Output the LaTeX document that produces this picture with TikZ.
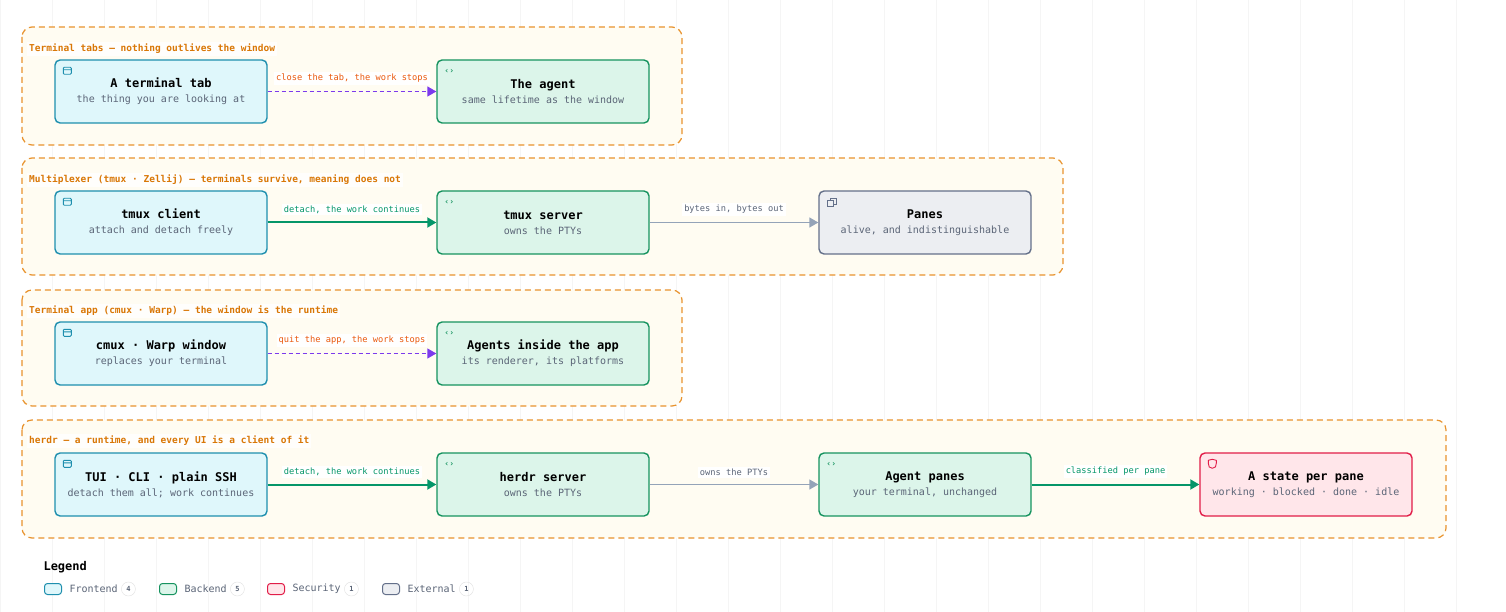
\documentclass[tikz,border=0pt]{standalone}
\usepackage{fontspec}
\setmainfont{DejaVu Sans Mono}
\usetikzlibrary{arrows.meta, positioning, calc}
\definecolor{feFill}{HTML}{DFF7FB}\definecolor{feLine}{HTML}{1E8FAE}
\definecolor{beFill}{HTML}{DCF5EA}\definecolor{beLine}{HTML}{16935F}
\definecolor{seFill}{HTML}{FFE6EA}\definecolor{seLine}{HTML}{E11D48}
\definecolor{exFill}{HTML}{ECEEF2}\definecolor{exLine}{HTML}{64708A}
\definecolor{grpFill}{HTML}{FFFCF2}\definecolor{grpLine}{HTML}{E8932E}
\definecolor{grpText}{HTML}{D97706}
\definecolor{subText}{HTML}{5B6577}
\definecolor{stopCol}{HTML}{EA580C}\definecolor{dashCol}{HTML}{7C3AED}
\definecolor{goCol}{HTML}{059669}\definecolor{byteCol}{HTML}{94A3B8}
\newcommand{\boxtxt}[2]{{\fontsize{12}{14}\selectfont\bfseries #1}\\[3pt]{\fontsize{10}{12}\selectfont\color{subText}#2}}
\begin{document}
\begin{tikzpicture}[x=1pt,y=-1pt,
    box/.style={rectangle, draw, line width=1.4pt, rounded corners=5pt, minimum width=212pt, minimum height=63pt, align=center, inner sep=2pt},
    fe/.style={box, fill=feFill, draw=feLine},
    be/.style={box, fill=beFill, draw=beLine},
    se/.style={box, fill=seFill, draw=seLine},
    ex/.style={box, fill=exFill, draw=exLine},
    grp/.style={draw=grpLine, fill=grpFill, dashed, dash pattern=on 6pt off 4pt, line width=1.2pt, rounded corners=10pt},
    grplabel/.style={font=\fontsize{9.5}{11}\selectfont\bfseries, text=grpText, fill=white, fill opacity=0.8, text opacity=1, anchor=west, inner sep=2pt},
    elabel/.style={font=\fontsize{8.7}{10}\selectfont, fill=white, inner sep=2pt},
    stop/.style={-{Triangle[length=9pt,width=10pt]}, dashCol, line width=1.4pt, dash pattern=on 4pt off 3pt},
    go/.style={-{Triangle[length=9pt,width=10pt]}, goCol, line width=2pt},
    bytes/.style={-{Triangle[length=9pt,width=10pt]}, byteCol, line width=1.4pt},
    icon/.style={font=\fontsize{8}{8}\selectfont\bfseries, inner sep=0pt}
]
\useasboundingbox[fill=white] (0,0) rectangle (1506,612);
% faint grid
\draw[black!4, line width=0.5pt] (0,0) grid[step=52] (1506,612);

% groups
\draw[grp] (22,27) rectangle (682,145);
\node[grplabel] (g1) at (27,49) {Terminal tabs — nothing outlives the window};
\draw[grp] (22,158) rectangle (1063,275);
\node[grplabel] (g2) at (27,180) {Multiplexer (tmux · Zellij) — terminals survive, meaning does not};
\draw[grp] (22,290) rectangle (682,406);
\node[grplabel] (g3) at (27,311) {Terminal app (cmux · Warp) — the window is the runtime};
\draw[grp] (22,420) rectangle (1446,538);
\node[grplabel] (g4) at (27,441) {herdr — a runtime, and every UI is a client of it};

% row 1
\node[fe] (tab) at (161,91.5) {\boxtxt{A terminal tab}{the thing you are looking at}};
\node[be] (agent) at (543,91.5) {\boxtxt{The agent}{same lifetime as the window}};
% row 2
\node[fe] (client) at (161,222.5) {\boxtxt{tmux client}{attach and detach freely}};
\node[be] (tserver) at (543,222.5) {\boxtxt{tmux server}{owns the PTYs}};
\node[ex] (panes) at (925,222.5) {\boxtxt{Panes}{alive, and indistinguishable}};
% row 3
\node[fe] (cmux) at (161,353.5) {\boxtxt{cmux · Warp window}{replaces your terminal}};
\node[be] (inside) at (543,353.5) {\boxtxt{Agents inside the app}{its renderer, its platforms}};
% row 4
\node[fe] (tui) at (161,484.5) {\boxtxt{TUI · CLI · plain SSH}{detach them all; work continues}};
\node[be] (hserver) at (543,484.5) {\boxtxt{herdr server}{owns the PTYs}};
\node[be] (apanes) at (925,484.5) {\boxtxt{Agent panes}{your terminal, unchanged}};
\node[se] (state) at (1306,484.5) {\boxtxt{A state per pane}{working · blocked · done · idle}};

% icons
\foreach \n in {tab, client, cmux, tui}
  \draw[feLine, line width=0.9pt, rounded corners=1pt] ($(\n.north west)+(9,8)$) rectangle ++(8,7) ($(\n.north west)+(9,10.5)$) -- ++(8,0);
\foreach \n/\c in {agent/beLine, tserver/beLine, inside/beLine, hserver/beLine, apanes/beLine}
  \node[icon, text=\c] at ($(\n.north west)+(13,12)$) {‹›};
\draw[exLine, line width=0.9pt] ($(panes.north west)+(9,10)$) rectangle ++(6,6) ($(panes.north west)+(12,10)$) -- ++(0,-2) -- ++(6,0) -- ++(0,6) -- ++(-3,0);
\draw[seLine, line width=0.9pt, line join=round] ($(state.north west)+(9,8)$) -- ++(4,-1) -- ++(4,1) -- ++(0,3) .. controls ++(0,3) and ++(3,0) .. ++(-4,5) .. controls ++(-3,0) and ++(0,3) .. ++(-4,-5) -- cycle;

% connectors
\draw[stop] (tab) -- node[elabel, text=stopCol, above=6pt] {close the tab, the work stops} (agent);
\draw[go] (client) -- node[elabel, text=goCol, above=6pt] {detach, the work continues} (tserver);
\draw[bytes] (tserver) -- node[elabel, text=subText, above=6pt] {bytes in, bytes out} (panes);
\draw[stop] (cmux) -- node[elabel, text=stopCol, above=6pt] {quit the app, the work stops} (inside);
\draw[go] (tui) -- node[elabel, text=goCol, above=6pt] {detach, the work continues} (hserver);
\draw[bytes] (hserver) -- node[elabel, text=subText, above=6pt] {owns the PTYs} (apanes);
\draw[go] (apanes) -- node[elabel, text=goCol, above=6pt] {classified per pane} (state);

% legend
\node[font=\fontsize{12}{14}\selectfont\bfseries, anchor=west] (legend) at (40,567) {Legend};
\foreach \st/\lab/\num/\x in {fe/Frontend/4/44, be/Backend/5/159, se/Security/1/267, ex/External/1/382} {
  \node[\st, minimum width=17pt, minimum height=11pt, line width=1pt, rounded corners=3pt, anchor=west] (l\st) at (\x,589) {};
  \node[font=\fontsize{10}{12}\selectfont, text=subText, right=4pt of l\st] (t\st) {\lab};
  \node[circle, draw=black!12, font=\fontsize{7}{8}\selectfont\bfseries, text=subText, inner sep=1pt, minimum size=14pt, right=0pt of t\st] (n\st) {\num};
}
\end{tikzpicture}
\end{document}
